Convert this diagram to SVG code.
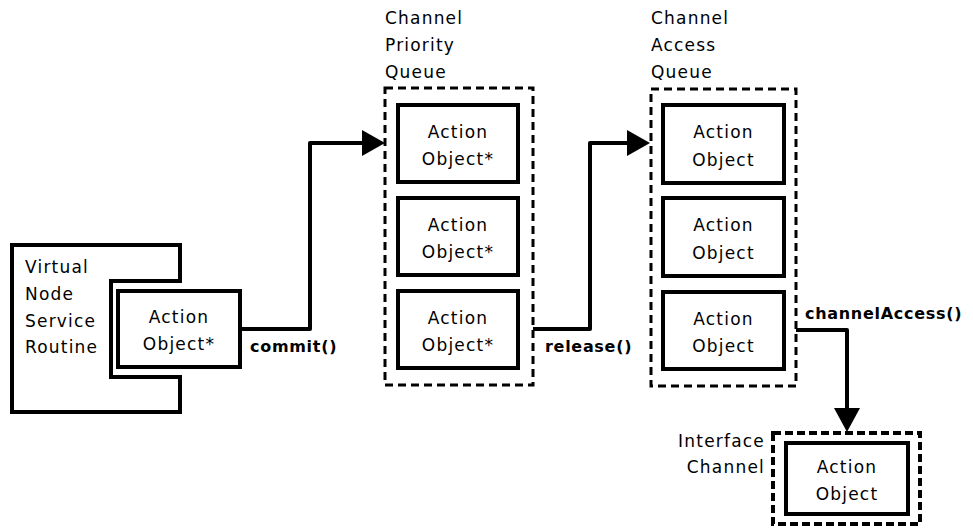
<svg xmlns="http://www.w3.org/2000/svg" width="973" height="531" viewBox="0 0 973 531">
  <style>
    .box { fill: #fff; stroke: #000; stroke-width: 4; }
    .queue { fill: none; stroke: #000; stroke-width: 3; stroke-dasharray: 8 5; }
    .wire { fill: none; stroke: #000; stroke-width: 4; stroke-linejoin: round; }
    .head { fill: #000; }
    text { font-family: "DejaVu Sans", "Liberation Sans", sans-serif; font-size: 17px; letter-spacing: 1.2px; fill: #000; }
    .ctr { text-anchor: middle; }
    .call { font-weight: bold; font-size: 16px; letter-spacing: 0.7px; }
  </style>

  <!-- connectors -->
  <g id="connectors">
    <path class="wire" d="M240,329 H310 V143 H364"/>
    <polygon class="head" points="362,130 385,143 362,156"/>
    <path class="wire" d="M533,329 H590 V143 H629"/>
    <polygon class="head" points="627,130 650,143 627,156"/>
    <path class="wire" d="M796,330 H847 V410"/>
    <polygon class="head" points="834,408 860,408 847,432"/>
    <text class="call" x="250" y="352">commit()</text>
    <text class="call" x="545" y="352">release()</text>
    <text class="call" x="805" y="319">channelAccess()</text>
  </g>

  <!-- virtual node service routine holding an action object -->
  <g id="vnsr">
    <path class="box" fill="none" d="M12,245 H180 V281 H111 V377 H180 V412 H12 Z"/>
    <text x="25" y="273">Virtual</text>
    <text x="25" y="300">Node</text>
    <text x="25" y="327">Service</text>
    <text x="25" y="353">Routine</text>
  </g>
  <g id="vnsr-action">
    <rect class="box" x="118" y="291" width="122" height="76"/>
    <text class="ctr" x="179" y="323">Action</text>
    <text class="ctr" x="179" y="350">Object*</text>
  </g>

  <!-- channel priority queue -->
  <g id="priority-queue">
    <text x="385" y="24">Channel</text>
    <text x="385" y="51">Priority</text>
    <text x="385" y="78">Queue</text>
    <rect class="queue" x="385" y="88" width="148" height="297"/>
  </g>
  <g id="pq-action-1">
    <rect class="box" x="398" y="105" width="120" height="77"/>
    <text class="ctr" x="458" y="138">Action</text>
    <text class="ctr" x="458" y="165">Object*</text>
  </g>
  <g id="pq-action-2">
    <rect class="box" x="398" y="198" width="120" height="77"/>
    <text class="ctr" x="458" y="231">Action</text>
    <text class="ctr" x="458" y="258">Object*</text>
  </g>
  <g id="pq-action-3">
    <rect class="box" x="398" y="291" width="120" height="77"/>
    <text class="ctr" x="458" y="324">Action</text>
    <text class="ctr" x="458" y="351">Object*</text>
  </g>

  <!-- channel access queue -->
  <g id="access-queue">
    <text x="651" y="24">Channel</text>
    <text x="651" y="51">Access</text>
    <text x="651" y="78">Queue</text>
    <rect class="queue" x="651" y="89" width="145" height="297"/>
  </g>
  <g id="aq-action-1">
    <rect class="box" x="663" y="105" width="121" height="78"/>
    <text class="ctr" x="723.5" y="138">Action</text>
    <text class="ctr" x="723.5" y="166">Object</text>
  </g>
  <g id="aq-action-2">
    <rect class="box" x="663" y="198" width="121" height="78"/>
    <text class="ctr" x="723.5" y="231">Action</text>
    <text class="ctr" x="723.5" y="259">Object</text>
  </g>
  <g id="aq-action-3">
    <rect class="box" x="663" y="292" width="121" height="77"/>
    <text class="ctr" x="723.5" y="325">Action</text>
    <text class="ctr" x="723.5" y="352">Object</text>
  </g>

  <!-- interface channel -->
  <g id="interface-channel">
    <text x="765" y="447" text-anchor="end">Interface</text>
    <text x="765" y="473" text-anchor="end">Channel</text>
    <rect class="queue" x="773" y="433" width="147" height="91" style="stroke-width:4; stroke-dasharray:8 4"/>
  </g>
  <g id="ic-action">
    <rect class="box" x="786" y="443" width="122" height="71"/>
    <text class="ctr" x="847" y="473">Action</text>
    <text class="ctr" x="847" y="500">Object</text>
  </g>
</svg>
